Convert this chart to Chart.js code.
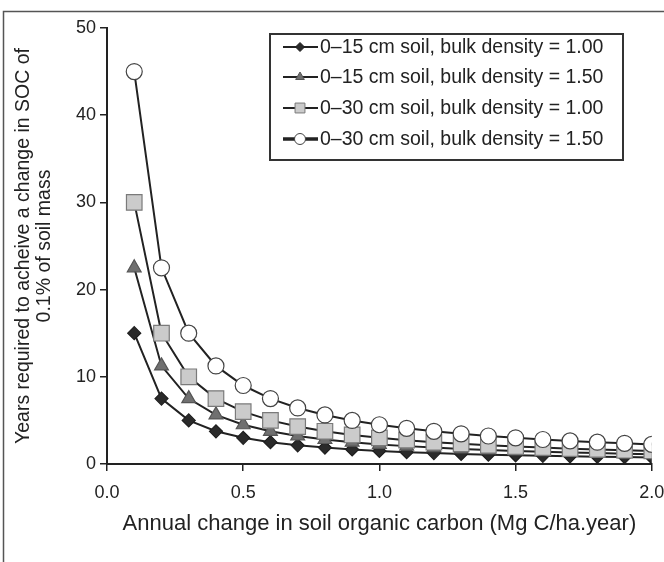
<!DOCTYPE html>
<html>
<head>
<meta charset="utf-8">
<script src="https://cdn.jsdelivr.net/npm/chart.js@4.4.0/dist/chart.umd.min.js"></script>
<style>
  html, body { margin: 0; padding: 0; background: #fff; }
  canvas { display: block; }
</style>
</head>
<body>
<canvas id="soc" width="664" height="562"></canvas>
<script>
// annual change in SOC (Mg C/ha.year)
const carbonRates = [0.1, 0.2, 0.3, 0.4, 0.5, 0.6, 0.7, 0.8, 0.9, 1.0,
                     1.1, 1.2, 1.3, 1.4, 1.5, 1.6, 1.7, 1.8, 1.9, 2.0];

// years required, one list per curve
const soil15Bd100 = [15, 7.5, 5, 3.75, 3, 2.5, 2.14, 1.88, 1.67, 1.5,
                     1.36, 1.25, 1.15, 1.07, 1, 0.94, 0.88, 0.83, 0.79, 0.75];
const soil15Bd150 = [22.5, 11.25, 7.5, 5.63, 4.5, 3.75, 3.21, 2.81, 2.5, 2.25,
                     2.05, 1.88, 1.73, 1.61, 1.5, 1.41, 1.32, 1.25, 1.18, 1.13];
const soil30Bd100 = [30, 15, 10, 7.5, 6, 5, 4.29, 3.75, 3.33, 3,
                     2.73, 2.5, 2.31, 2.14, 2, 1.88, 1.76, 1.67, 1.58, 1.5];
const soil30Bd150 = [45, 22.5, 15, 11.25, 9, 7.5, 6.43, 5.63, 5, 4.5,
                     4.09, 3.75, 3.46, 3.21, 3, 2.81, 2.65, 2.5, 2.37, 2.25];

const seriesLabels = [
  '0\u201315 cm soil, bulk density = 1.00',
  '0\u201315 cm soil, bulk density = 1.50',
  '0\u201330 cm soil, bulk density = 1.00',
  '0\u201330 cm soil, bulk density = 1.50'
];

const xTicks = [0, 0.5, 1.0, 1.5, 2.0];
const yTicks = [0, 10, 20, 30, 40, 50];

const FONT = '"Liberation Sans", Arial, sans-serif';
const INK = '#222';

const markers = [
  { style: 'rectRot',  radius: 6.5, fill: '#2a2a2a', border: '#1e1e1e', legendRadius: 4.5, legendLine: 2 },
  { style: 'triangle', radius: 8,   fill: '#707070', border: '#555',    legendRadius: 5,   legendLine: 2 },
  { style: 'rect',     radius: 11,  fill: '#cbcbcb', border: '#7a7a7a', legendRadius: 7,   legendLine: 2 },
  { style: 'circle',   radius: 8,   fill: '#ffffff', border: '#444',    legendRadius: 5.5, legendLine: 3.5 }
];

function toPoints(ys) {
  return carbonRates.map((x, i) => ({ x: x, y: ys[i] }));
}

const allSeries = [soil15Bd100, soil15Bd150, soil30Bd100, soil30Bd150];

const datasets = allSeries.map((ys, i) => ({
  label: seriesLabels[i],
  data: toPoints(ys),
  showLine: true,
  borderColor: INK,
  borderWidth: 2,
  pointStyle: markers[i].style,
  pointRadius: markers[i].radius,
  pointBackgroundColor: markers[i].fill,
  pointBorderColor: markers[i].border,
  pointBorderWidth: 1.2,
  order: 3 - i
}));

// outer frame round the figure
const framePlugin = {
  id: 'frame',
  beforeDraw(chart) {
    const ctx = chart.ctx;
    ctx.save();
    ctx.fillStyle = '#fff';
    ctx.fillRect(0, 0, chart.width, chart.height);
    ctx.strokeStyle = '#555';
    ctx.lineWidth = 1.5;
    ctx.strokeRect(3.5, 11.5, 700, 600);
    ctx.restore();
  }
};

// boxed legend inside the plot
const boxLegend = {
  id: 'boxLegend',
  afterDraw(chart) {
    const ctx = chart.ctx;
    const box = { x: 270, y: 34, w: 353, h: 126 };
    const rows = [47, 77, 108, 139];
    ctx.save();
    ctx.fillStyle = '#fff';
    ctx.fillRect(box.x, box.y, box.w, box.h);
    ctx.strokeStyle = '#333';
    ctx.lineWidth = 2;
    ctx.strokeRect(box.x, box.y, box.w, box.h);
    seriesLabels.forEach((label, i) => {
      const y = rows[i];
      const m = markers[i];
      ctx.strokeStyle = INK;
      ctx.lineWidth = m.legendLine;
      ctx.beginPath();
      ctx.moveTo(283, y);
      ctx.lineTo(318, y);
      ctx.stroke();
      ctx.fillStyle = m.fill;
      ctx.strokeStyle = m.border;
      ctx.lineWidth = 1;
      Chart.helpers.drawPoint(ctx, { pointStyle: m.style, radius: m.legendRadius, borderWidth: 1, rotation: 0 }, 300, y);
      ctx.fillStyle = INK;
      ctx.font = '19.5px ' + FONT;
      ctx.textAlign = 'left';
      ctx.textBaseline = 'middle';
      ctx.fillText(label, 320, y + 1);
    });
    ctx.restore();
  }
};

new Chart(document.getElementById('soc'), {
  type: 'scatter',
  data: { datasets: datasets },
  plugins: [framePlugin, boxLegend],
  options: {
    responsive: false,
    animation: false,
    layout: { padding: { left: 8, top: 28, right: 12, bottom: 22 } },
    plugins: { legend: { display: false }, tooltip: { enabled: false } },
    scales: {
      x: {
        type: 'linear',
        min: xTicks[0],
        max: xTicks[xTicks.length - 1],
        afterBuildTicks(scale) { scale.ticks = xTicks.map(v => ({ value: v })); },
        afterFit(scale) {
          scale.height = 76;
          scale.paddingLeft = 0;
          scale.paddingRight = 0;
        },
        ticks: {
          color: INK,
          font: { family: FONT, size: 18 },
          padding: 11,
          maxRotation: 0,
          callback: v => Number(v).toFixed(1)
        },
        grid: { drawOnChartArea: false, drawTicks: true, tickLength: 7, color: INK, lineWidth: 1.5 },
        border: { display: true, color: INK, width: 2 },
        title: {
          display: true,
          text: 'Annual change in soil organic carbon (Mg C/ha.year)',
          color: INK,
          font: { family: FONT, size: 22, lineHeight: 1 },
          padding: { top: 0, bottom: 5 }
        }
      },
      y: {
        type: 'linear',
        min: yTicks[0],
        max: yTicks[yTicks.length - 1],
        afterBuildTicks(scale) { scale.ticks = yTicks.map(v => ({ value: v })); },
        afterFit(scale) { scale.width = 99; },
        ticks: {
          color: INK,
          font: { family: FONT, size: 18 },
          padding: 4
        },
        grid: { drawOnChartArea: false, drawTicks: true, tickLength: 7, color: INK, lineWidth: 1.5 },
        border: { display: true, color: INK, width: 2 },
        title: {
          display: true,
          text: ['Years required to acheive a change in SOC of', '0.1% of soil mass'],
          color: INK,
          font: { family: FONT, size: 19.5, lineHeight: 1.03 },
          padding: { top: 6, bottom: 0 }
        }
      }
    }
  }
});
</script>
</body>
</html>
